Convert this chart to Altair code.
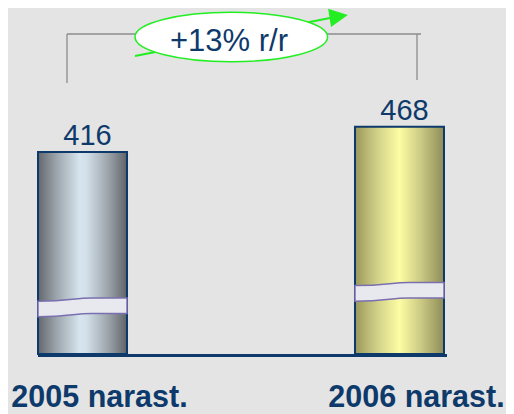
import altair as alt
import pandas as pd

# ---- data ----
categories = ["2005 narast.", "2006 narast."]
values = [416, 468]
value_labels = ["416", "468"]
break_values = [96, 128]          # where the "axis break" band sits on each bar
growth_label = "+13% r/r"

df = pd.DataFrame({"cat": categories, "value": values,
                   "label": value_labels, "brk": break_values})

NAVY = "#0e3a6b"
GREEN = "#22ee22"
FONT = "Liberation Sans"

x_enc = alt.X("cat:N", sort=categories,
              scale=alt.Scale(domain=categories, paddingInner=0.7192, paddingOuter=0),
              axis=None)
y_scale = alt.Scale(domain=[0, 700])

grad_2005 = alt.Gradient(gradient="linear", x1=0, x2=1, y1=0, y2=0, stops=[
    {"offset": 0.0, "color": "#62676c"},
    {"offset": 0.2, "color": "#9aa3aa"},
    {"offset": 0.47, "color": "#d7e5ee"},
    {"offset": 0.55, "color": "#d2dfe8"},
    {"offset": 0.8, "color": "#99a1a7"},
    {"offset": 1.0, "color": "#5f6368"},
])
grad_2006 = alt.Gradient(gradient="linear", x1=0, x2=1, y1=0, y2=0, stops=[
    {"offset": 0.0, "color": "#9a985a"},
    {"offset": 0.25, "color": "#d2d189"},
    {"offset": 0.5, "color": "#fdfda4"},
    {"offset": 0.75, "color": "#c9c782"},
    {"offset": 1.0, "color": "#8e8c58"},
])

BREAK_PATH = ("M-1,-0.14 C-0.3,-0.14 -0.2,-0.21 0.2,-0.21 L1,-0.21 L1,0.14 "
              "L0.2,0.14 C-0.2,0.14 -0.3,0.21 -1,0.21 Z")
ry = 0.256
k = 0.5523
ELLIPSE_PATH = (f"M-1,0 C-1,{-k*ry:.4f} {-k:.4f},{-ry} 0,{-ry} "
                f"C{k:.4f},{-ry} 1,{-k*ry:.4f} 1,0 "
                f"C1,{k*ry:.4f} {k:.4f},{ry} 0,{ry} "
                f"C{-k:.4f},{ry} -1,{k*ry:.4f} -1,0 Z")
ARROW_PATH = "M-1,-1 L1,0 L-1,1 Z"

base = alt.Chart(df)
one = alt.Chart(alt.Data(values=[{}]))

bar1 = base.transform_filter(alt.datum.cat == categories[0]).mark_bar(
    fill=grad_2005, stroke=NAVY, strokeWidth=2
).encode(x=x_enc, y=alt.Y("value:Q", scale=y_scale, axis=None))

bar2 = base.transform_filter(alt.datum.cat == categories[1]).mark_bar(
    fill=grad_2006, stroke=NAVY, strokeWidth=2
).encode(x=x_enc, y=alt.Y("value:Q", scale=y_scale, axis=None))

breaks = base.mark_point(
    shape=BREAK_PATH, size=7921, filled=True, fill="#e8e8ef",
    stroke="#7a6fb0", strokeWidth=1.5, opacity=1
).encode(x=x_enc, y=alt.Y("brk:Q", scale=y_scale, axis=None))

val_text = base.mark_text(
    font=FONT, fontSize=29, color=NAVY, dx=5, dy=-7, baseline="alphabetic"
).encode(x=x_enc, y=alt.Y("value:Q", scale=y_scale, axis=None), text="label:N")

cat_text = base.mark_text(
    font=FONT, fontSize=30.5, fontWeight="bold", color=NAVY, dx=17,
    baseline="alphabetic"
).encode(x=x_enc, y=alt.value(393), text="cat:N")

baseline = one.mark_rule(color=NAVY, strokeWidth=3).encode(
    x=alt.value(0), x2=alt.value(409), y=alt.value(341.5))

GRAY = "#8c8c8c"
br_left = one.mark_rule(color=GRAY, strokeWidth=1.3).encode(
    x=alt.value(29), y=alt.value(20), y2=alt.value(69))
br_top = one.mark_rule(color=GRAY, strokeWidth=1.3).encode(
    x=alt.value(29), x2=alt.value(383), y=alt.value(20))
br_right = one.mark_rule(color=GRAY, strokeWidth=1.3).encode(
    x=alt.value(379), y=alt.value(20), y2=alt.value(66))

arrow_line = one.mark_rule(color=GREEN, strokeWidth=2.2).encode(
    x=alt.value(97), y=alt.value(42), x2=alt.value(292), y2=alt.value(4))
arrow_head = one.mark_point(
    shape=ARROW_PATH, size=342, angle=351, filled=True, fill=GREEN,
    strokeWidth=0, opacity=1
).encode(x=alt.value(300.7), y=alt.value(2.5))

ellipse = one.mark_point(
    shape=ELLIPSE_PATH, size=37095, filled=True, fill="white",
    stroke=GREEN, strokeWidth=1.5, opacity=1
).encode(x=alt.value(193.3), y=alt.value(23))

growth = one.mark_text(
    font=FONT, fontSize=31, color=NAVY, align="center", baseline="alphabetic"
).encode(x=alt.value(191), y=alt.value(37), text=alt.value(growth_label))

chart = alt.layer(
    bar1, bar2, breaks, val_text, cat_text, baseline,
    br_left, br_top, br_right, arrow_line, arrow_head, ellipse, growth
).properties(
    width=406, height=340,
    padding={"left": 30, "top": 6, "right": 62, "bottom": 60},
    autosize=alt.AutoSizeParams(type="none"),
    background="#e4e4e4",
).configure_view(stroke=None)

chart.save("out.html", embed_options={"renderer": "svg", "actions": False})
